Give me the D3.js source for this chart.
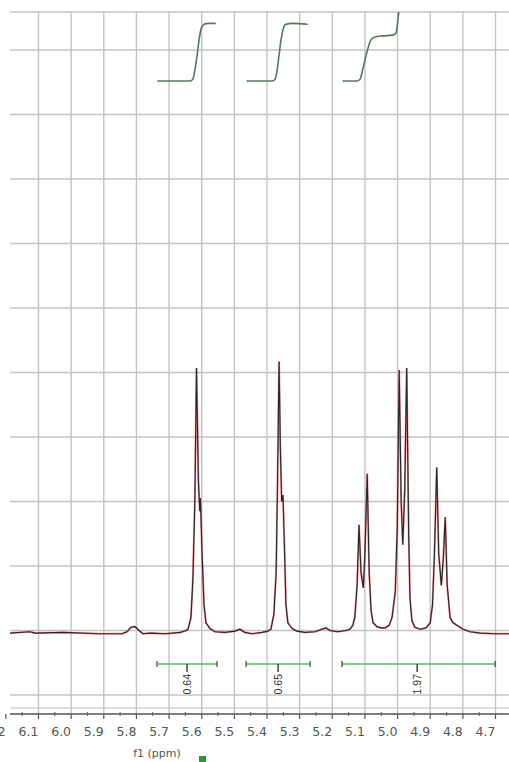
<!DOCTYPE html>
<html>
<head>
<meta charset="utf-8">
<script src="https://cdn.jsdelivr.net/npm/d3@7"></script>
<style>
  body { margin: 0; background: #fff; }
  svg { display: block; }
</style>
</head>
<body>
<svg width="509" height="762"></svg>
<script>
// chemical shift ticks (ppm) and grid rows (intensity units)
const ppmTicks = [6.2, 6.1, 6.0, 5.9, 5.8, 5.7, 5.6, 5.5, 5.4, 5.3, 5.2, 5.1, 5.0, 4.9, 4.8, 4.7];
const rowTicks = [-1, 0, 1, 2, 3, 4, 5, 6, 7, 8, 9];

// spectrum trace: [ppm, intensity]
const spectrum = [
  [6.187, -0.04], [6.126, -0.02], [6.111, -0.04], [6.025, -0.03], [5.912, -0.05],
  [5.844, -0.05], [5.829, -0.02], [5.817, 0.05], [5.804, 0.06], [5.792, 0.0],
  [5.780, -0.05], [5.758, -0.04], [5.712, -0.05], [5.666, -0.03], [5.648, 0.0],
  [5.642, 0.02], [5.633, 0.2], [5.627, 0.8], [5.621, 2.0], [5.616, 4.07],
  [5.610, 2.3], [5.606, 1.85], [5.604, 2.05], [5.599, 1.2], [5.593, 0.4],
  [5.587, 0.12], [5.575, 0.03], [5.559, -0.02], [5.529, -0.03], [5.498, -0.01],
  [5.483, 0.02], [5.468, -0.03], [5.446, -0.05], [5.415, -0.03], [5.397, -0.01],
  [5.388, 0.02], [5.379, 0.25], [5.372, 0.9], [5.368, 2.2], [5.363, 4.17],
  [5.359, 2.8], [5.355, 2.0], [5.351, 2.1], [5.346, 1.2], [5.342, 0.4],
  [5.336, 0.12], [5.323, 0.03], [5.308, -0.01], [5.284, -0.03], [5.253, -0.02],
  [5.232, 0.02], [5.219, 0.04], [5.207, 0.0], [5.183, -0.02], [5.158, 0.0],
  [5.146, 0.02], [5.137, 0.08], [5.131, 0.2], [5.124, 0.7], [5.118, 1.64],
  [5.112, 0.9], [5.105, 0.66], [5.100, 1.2], [5.093, 2.43], [5.087, 0.9],
  [5.081, 0.3], [5.075, 0.12], [5.063, 0.06], [5.051, 0.04], [5.038, 0.04],
  [5.026, 0.08], [5.017, 0.2], [5.007, 0.6], [5.001, 1.6], [4.995, 4.04],
  [4.989, 2.0], [4.984, 1.33], [4.978, 2.2], [4.972, 4.07], [4.966, 1.5],
  [4.962, 0.5], [4.956, 0.15], [4.947, 0.05], [4.931, 0.02], [4.913, 0.04],
  [4.900, 0.12], [4.893, 0.4], [4.887, 1.2], [4.880, 2.53], [4.874, 1.2],
  [4.866, 0.7], [4.860, 1.1], [4.854, 1.76], [4.848, 0.7], [4.839, 0.2],
  [4.830, 0.12], [4.818, 0.08], [4.799, 0.02], [4.778, -0.02], [4.747, -0.04],
  [4.701, -0.05], [4.659, -0.05]
];

// integral curves: [ppm, cumulative integral]
const integral1 = [[5.734, 0], [5.636, 0], [5.627, 0.02], [5.621, 0.12], [5.614, 0.29],
  [5.608, 0.46], [5.602, 0.58], [5.593, 0.63], [5.581, 0.64], [5.559, 0.64]];
const integral2 = [[5.461, 0], [5.384, 0], [5.375, 0.02], [5.369, 0.12], [5.363, 0.29],
  [5.357, 0.46], [5.351, 0.57], [5.342, 0.63], [5.323, 0.64], [5.277, 0.63]];
const integral3 = [[5.167, 0], [5.124, 0], [5.115, 0.02], [5.106, 0.14], [5.094, 0.32],
  [5.081, 0.46], [5.069, 0.49], [5.051, 0.50], [5.014, 0.51], [5.005, 0.53],
  [4.999, 0.68], [4.994, 0.84]];
const integrals = [integral1, integral2, integral3];

// integration ranges and values
const intRanges = [[5.737, 5.553], [5.464, 5.268], [5.170, 4.701]];
const intCenters = [5.645, 5.366, 4.940];
const intLabels = ["0.64", "0.65", "1.97"];

const svg = d3.select("svg");
const plotLeft = 10, plotRight = 509, plotTop = 12, plotBottom = 708, axisY = 714;

const x = d3.scaleLinear().domain([6.1, 4.7]).range([38.5, 495.5]);
const y = d3.scaleLinear().domain([-1, 9]).range([695, 50]);
const yInt = d3.scaleLinear().domain([0, 1]).range([81, -9]);

svg.append("defs").append("clipPath").attr("id", "plot")
  .append("rect").attr("x", plotLeft).attr("y", plotTop)
  .attr("width", plotRight - plotLeft).attr("height", plotBottom - plotTop);

// grid
const grid = svg.append("g").attr("stroke", "#c4c4c4").attr("stroke-width", 1.4);
grid.append("line").attr("x1", plotLeft).attr("x2", plotRight).attr("y1", plotTop).attr("y2", plotTop);
grid.selectAll(".h").data(rowTicks).enter().append("line")
  .attr("x1", plotLeft).attr("x2", plotRight)
  .attr("y1", d => y(d)).attr("y2", d => y(d));
grid.append("line").attr("x1", plotLeft).attr("x2", plotRight)
  .attr("y1", plotBottom).attr("y2", plotBottom).attr("stroke", "#d4d4d4");
grid.selectAll(".v").data(ppmTicks.filter(d => x(d) > plotLeft)).enter().append("line")
  .attr("x1", d => x(d)).attr("x2", d => x(d))
  .attr("y1", plotTop).attr("y2", axisY);

const plot = svg.append("g").attr("clip-path", "url(#plot)");

// spectrum: red trace under black trace
const line = d3.line().x(d => x(d[0])).y(d => y(d[1]));
plot.append("path").datum(spectrum).attr("d", line)
  .attr("fill", "none").attr("stroke", "#e0404a").attr("stroke-width", 2.0).attr("stroke-opacity", 0.55);
plot.append("path").datum(spectrum).attr("d", line)
  .attr("fill", "none").attr("stroke", "#2a2626").attr("stroke-width", 1.15);

// integral curves
const intLine = d3.line().x(d => x(d[0])).y(d => yInt(d[1])).curve(d3.curveMonotoneX);
integrals.forEach(c => {
  plot.append("path").datum(c).attr("d", intLine)
    .attr("fill", "none").attr("stroke", "#587658").attr("stroke-width", 1.6)
    .attr("stroke-linecap", "round");
});

// integration bars
const barY = 664;
const bars = svg.append("g");
intRanges.forEach((r, i) => {
  bars.append("line").attr("x1", x(r[0])).attr("x2", x(r[1]))
    .attr("y1", barY).attr("y2", barY).attr("stroke", "#5cb85c").attr("stroke-width", 1.6);
  r.forEach(p => bars.append("line").attr("x1", x(p)).attr("x2", x(p))
    .attr("y1", barY - 3).attr("y2", barY + 3).attr("stroke", "#444").attr("stroke-width", 1.2));
  const cx = x(intCenters[i]);
  bars.append("line").attr("x1", cx).attr("x2", cx)
    .attr("y1", barY).attr("y2", barY + 8).attr("stroke", "#333").attr("stroke-width", 1.4);
  bars.append("text")
    .attr("transform", `translate(${cx + 3.8}, ${barY + 10}) rotate(-90)`)
    .attr("text-anchor", "end")
    .attr("font-family", "Liberation Sans, Arial, sans-serif")
    .attr("font-size", "10.5px").attr("fill", "#333")
    .text(intLabels[i]);
});

// x axis
const axis = svg.append("g");
axis.append("line").attr("x1", plotLeft).attr("x2", plotRight)
  .attr("y1", axisY).attr("y2", axisY).attr("stroke", "#555").attr("stroke-width", 1.3);
axis.selectAll(".maj").data(ppmTicks).enter().append("line")
  .attr("x1", d => x(d)).attr("x2", d => x(d))
  .attr("y1", axisY).attr("y2", axisY + 5).attr("stroke", "#555").attr("stroke-width", 1.2);
axis.selectAll(".min").data(ppmTicks.map(d => d - 0.05)).enter().append("line")
  .attr("x1", d => x(d)).attr("x2", d => x(d))
  .attr("y1", axisY - 2).attr("y2", axisY + 2).attr("stroke", "#666").attr("stroke-width", 1.1);
// tick labels sit a little left of their ticks in the original
axis.selectAll("text").data(ppmTicks).enter().append("text")
  .attr("x", d => x(d) - 10).attr("y", axisY + 22)
  .attr("text-anchor", "middle")
  .attr("font-family", "DejaVu Sans, sans-serif")
  .attr("font-size", "12.5px").attr("fill", "#555")
  .text(d => d.toFixed(1));
svg.append("text").attr("x", 157).attr("y", 757)
  .attr("text-anchor", "middle")
  .attr("font-family", "DejaVu Sans, sans-serif")
  .attr("font-size", "11px").attr("fill", "#555")
  .text("f1 (ppm)");
svg.append("rect").attr("x", 199).attr("y", 756).attr("width", 7).attr("height", 6)
  .attr("fill", "#1f9e3f");
</script>
</body>
</html>
